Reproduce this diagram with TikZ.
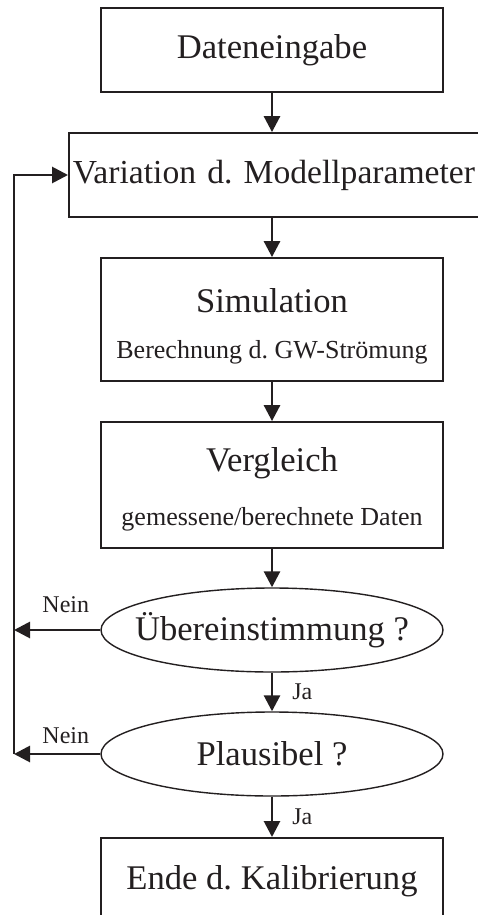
\documentclass[tikz,border=0pt]{standalone}
\usepackage{fontspec}
\setmainfont{Liberation Serif}
\usetikzlibrary{shapes.geometric,arrows.meta}

\definecolor{inkdark}{RGB}{35,31,32}

\newcommand{\bigtext}{\fontsize{17.3}{20.8}\selectfont}
\newcommand{\smalltext}{\fontsize{13}{15.6}\selectfont}
\newcommand{\tinytext}{\fontsize{12}{14}\selectfont}

\begin{document}
\begin{tikzpicture}[x=0.5pt, y=-0.5pt, color=inkdark,
    box/.style={draw, line width=0.9pt, minimum width=171pt, minimum height=42pt, inner sep=0pt, align=center, font=\bigtext},
    decide/.style={ellipse, draw, line width=0.7pt, minimum width=171pt, minimum height=42pt, inner sep=0pt},
    flow/.style={line width=1.4pt, -{Triangle[length=8pt,width=8pt]}},
    tag/.style={font=\tinytext, inner sep=1pt}]
    % Frame
    \useasboundingbox (0,0) rectangle (477,915);

    % Steps
    \node (input) [box] at (272,50) {Dateneingabe};
    \node (vary) [box, anchor=west, text width=236pt, align=left, inner xsep=2pt, font=\fontsize{16.8}{20}\selectfont] at (68,175) {Variation d.\ Modellparameter};
    \node (sim) [box, minimum height=61.5pt] at (272,319.5) {\rule{0pt}{19pt}Simulation\\[2pt]{\smalltext Berechnung d.\ GW-Strömung}};
    \node (comp) [box, minimum height=63pt] at (272,485) {\rule{0pt}{16pt}Vergleich\\[6pt]{\smalltext gemessene/berechnete Daten}};

    % Decisions
    \node (ue) [decide] at (272,630) {};
    \node (uetext) [font=\bigtext] at (ue) {Übereinstimmung ?};
    \node (plaus) [decide] at (272,754) {};
    \node (plaustext) [font=\bigtext] at (plaus) {Plausibel ?};

    \node (stop) [box, minimum height=43pt, anchor=north] at (272,837) {Ende d.\ Kalibrierung};

    % Main flow
    \draw[flow] (input) -- (input |- vary.north);
    \draw[flow] (input |- vary.south) -- (sim);
    \draw[flow] (sim) -- (comp);
    \draw[flow] (comp) -- (ue);
    \draw[flow] (ue) -- (plaus) node[tag, right=8.5pt, midway] {Ja};
    \draw[flow] (plaus) -- (stop) node[tag, right=8.5pt, midway] {Ja};

    % Loop back
    \coordinate (back) at (14,754);
    \draw[flow] (ue.west) -- (ue.west -| back) node[tag, above=7pt, pos=0.4] {Nein};
    \draw[flow] (plaus.west) -- (back) node[tag, above=3.5pt, pos=0.4] {Nein};
    \draw[flow] (back) |- (vary.west);
\end{tikzpicture}
\end{document}
